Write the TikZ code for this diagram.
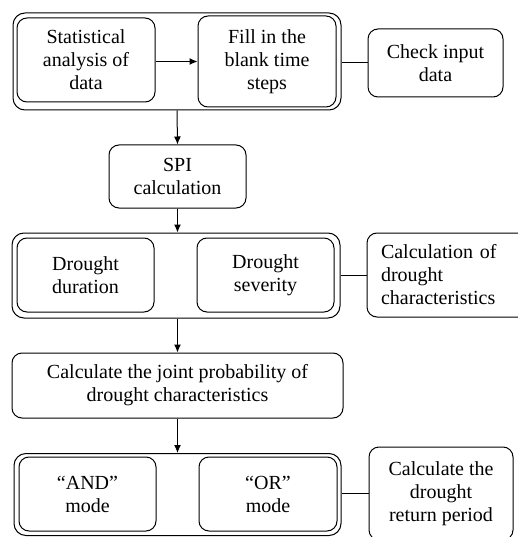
\documentclass[tikz,border=0pt]{standalone}
\usepackage{fontspec}
\setmainfont{Liberation Serif}
\usetikzlibrary{arrows.meta}
\tikzset{
  box/.style={draw, rounded corners=10pt, line width=1pt, align=center, inner sep=2pt,
    font=\fontsize{20}{23}\selectfont},
  frame/.style={draw, rounded corners=12pt, line width=1pt},
  flow/.style={line width=1pt, -{Latex[length=8pt,width=7pt]}}
}
\begin{document}
\begin{tikzpicture}[x=1pt, y=-1pt]
\useasboundingbox (0,0) rectangle (517,537);
% first stage
\node[frame, minimum width=328pt, minimum height=97pt] (outerA) at (177,61.5) {};
\node[box, minimum width=138pt, minimum height=84pt] (stat) at (86,60) {Statistical\\analysis of\\data};
\node[box, minimum width=138pt, minimum height=91pt] (fill) at (267,61.5) {Fill in the\\blank time\\steps};
\node[box, minimum width=135pt, minimum height=68pt] (check) at (435.5,63) {Check input\\data};
\node[box, minimum width=137pt, minimum height=63pt] (spi) at (177.5,176.5) {SPI\\calculation};
% second stage
\node[frame, minimum width=328pt, minimum height=85pt] (outerB) at (176,275.5) {};
\node[box, minimum width=137pt, minimum height=74pt] (dur) at (85.5,275) {Drought\\duration};
\node[box, minimum width=137pt, minimum height=74pt] (sev) at (265.5,275) {Drought\\severity};
\node[box, align=left, inner xsep=14pt, text width=136pt, minimum height=84pt] (chars) at (449,275) {Calculation of\\drought\\characteristics};
\node[box, minimum width=331pt, minimum height=65pt] (joint) at (177.5,385.5) {Calculate the joint probability of\\drought characteristics};
% third stage
\node[frame, minimum width=327pt, minimum height=82pt] (outerC) at (177.5,494.5) {};
\node[box, minimum width=137pt, minimum height=74pt] (andm) at (87.5,494) {``AND''\\mode};
\node[box, minimum width=138pt, minimum height=74pt] (orm) at (268,494) {``OR''\\mode};
\node[box, minimum width=144pt, minimum height=93pt] (ret) at (441,493.5) {Calculate the\\drought\\return period};

\path[draw,flow] (stat.east |- fill.west) -- (fill.west);
\path[draw,line width=1pt] (outerA.east |- check.west) -- (check.west);
\path[draw,flow] (outerA.south) -- (spi.north);
\path[draw,flow] (spi.south) -- (spi.south |- outerB.north);
\path[draw,line width=1pt] (outerB.east |- chars.west) -- (chars.west);
\path[draw,flow] (outerB.south -| joint.north) -- (joint.north);
\path[draw,flow] (joint.south) -- (joint.south |- outerC.north);
\path[draw,line width=1pt] (outerC.east |- ret.west) -- (ret.west);
\end{tikzpicture}
\end{document}
